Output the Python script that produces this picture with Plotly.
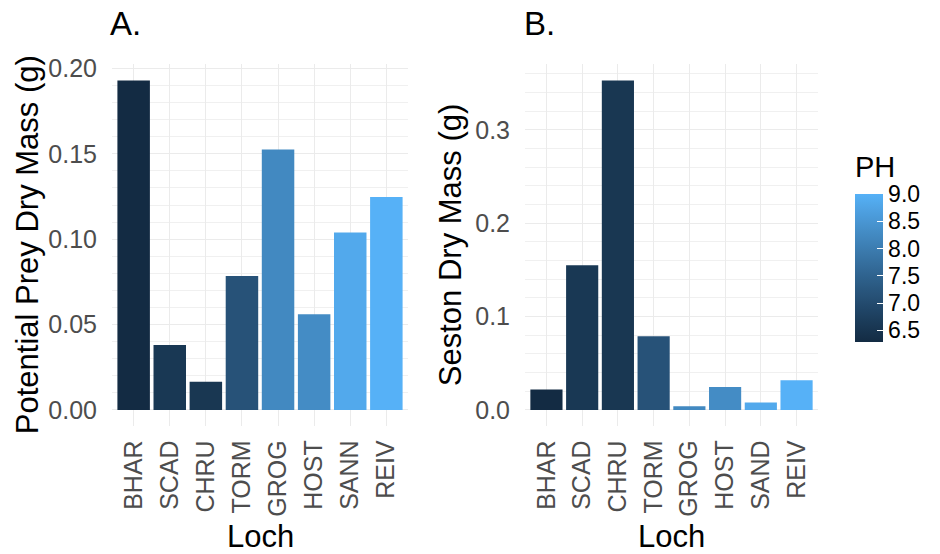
import plotly.graph_objects as go

# Loch data
lochs_a = ["BHAR", "SCAD", "CHRU", "TORM", "GROG", "HOST", "SANN", "REIV"]
prey_mass = [0.193, 0.038, 0.0165, 0.0785, 0.1525, 0.056, 0.104, 0.1247]
ph_a = [6.29, 6.58, 6.55, 7.15, 8.25, 8.3, 8.85, 9.0]

lochs_b = ["BHAR", "SCAD", "CHRU", "TORM", "GROG", "HOST", "SAND", "REIV"]
seston_mass = [0.0218, 0.155, 0.353, 0.079, 0.004, 0.0246, 0.008, 0.0317]
ph_b = [6.29, 6.58, 6.55, 7.15, 8.25, 8.3, 8.85, 9.0]

ph_ticks = [6.5, 7.0, 7.5, 8.0, 8.5, 9.0]

FONT = "Liberation Sans, Arial, sans-serif"
W, H = 940, 554


# ---- gradient interpolated in CIELAB (#132B43 -> #56B1F7) ----
def _hex_rgb(h):
    h = h.lstrip("#")
    return [int(h[i:i + 2], 16) / 255 for i in (0, 2, 4)]


def _lin(c):
    return c / 12.92 if c <= 0.04045 else ((c + 0.055) / 1.055) ** 2.4


def _delin(c):
    c = max(0.0, min(1.0, c))
    return 12.92 * c if c <= 0.0031308 else 1.055 * c ** (1 / 2.4) - 0.055


WHITE = (0.95047, 1.0, 1.08883)


def _to_lab(rgb):
    r, g, b = [_lin(c) for c in rgb]
    x = 0.4124 * r + 0.3576 * g + 0.1805 * b
    y = 0.2126 * r + 0.7152 * g + 0.0722 * b
    z = 0.0193 * r + 0.1192 * g + 0.9505 * b
    f = lambda t: t ** (1 / 3) if t > 0.008856 else 7.787 * t + 16 / 116
    fx, fy, fz = f(x / WHITE[0]), f(y / WHITE[1]), f(z / WHITE[2])
    return (116 * fy - 16, 500 * (fx - fy), 200 * (fy - fz))


def _from_lab(lab):
    L, a, b = lab
    fy = (L + 16) / 116
    fx = fy + a / 500
    fz = fy - b / 200
    finv = lambda t: t ** 3 if t ** 3 > 0.008856 else (t - 16 / 116) / 7.787
    x, y, z = finv(fx) * WHITE[0], finv(fy) * WHITE[1], finv(fz) * WHITE[2]
    r = 3.2406 * x - 1.5372 * y - 0.4986 * z
    g = -0.9689 * x + 1.8758 * y + 0.0415 * z
    bb = 0.0557 * x - 0.2040 * y + 1.0570 * z
    return "rgb(%d,%d,%d)" % tuple(round(_delin(c) * 255) for c in (r, g, bb))


lo, hi = _to_lab(_hex_rgb("#132B43")), _to_lab(_hex_rgb("#56B1F7"))
n = 20
colorscale = [
    [i / n, _from_lab([lo[k] + (hi[k] - lo[k]) * i / n for k in range(3)])]
    for i in range(n + 1)
]


def y_range(vals):
    top = max(vals)
    return [-0.05 * top, 1.05 * top]


fig = go.Figure()

fig.add_trace(go.Bar(
    x=lochs_a, y=prey_mass, xaxis="x", yaxis="y",
    marker=dict(color=ph_a, coloraxis="coloraxis", line=dict(width=0)),
    showlegend=False,
))
fig.add_trace(go.Bar(
    x=lochs_b, y=seston_mass, xaxis="x2", yaxis="y2",
    marker=dict(color=ph_b, coloraxis="coloraxis", line=dict(width=0)),
    showlegend=False,
))

# panel geometry in pixels -> paper fractions
ax_a = [112 / W, 408 / W]
ax_b = [525 / W, 818 / W]
ydom = [(H - 424) / H, (H - 55) / H]

grid = "#EBEBEB"
xcommon = dict(
    type="category", range=[-0.6, 7.6], showgrid=True, gridcolor=grid,
    gridwidth=1.1, zeroline=False, showline=False, ticks="",
    tickangle=-90, tickfont=dict(family=FONT, size=25, color="#4D4D4D"),
    ticklabelstandoff=8,
)
ycommon = dict(
    showgrid=True, gridcolor=grid, gridwidth=1.1, zeroline=False,
    showline=False, ticks="", domain=ydom,
    tickfont=dict(family=FONT, size=25, color="#4D4D4D"),
    ticklabelstandoff=14,
    minor=dict(showgrid=True, gridcolor="#F0F0F0", gridwidth=0.7),
)

cb_top, cb_bottom = 190, 338

fig.update_layout(
    width=W, height=H,
    margin=dict(l=0, r=0, t=0, b=0),
    paper_bgcolor="white", plot_bgcolor="white",
    bargap=0.1,
    font=dict(family=FONT, color="black"),
    xaxis=dict(domain=ax_a, anchor="y", **xcommon),
    yaxis=dict(anchor="x", range=y_range(prey_mass), dtick=0.05,
               tickformat=".2f", **ycommon),
    xaxis2=dict(domain=ax_b, anchor="y2", **xcommon),
    yaxis2=dict(anchor="x2", range=y_range(seston_mass), dtick=0.1,
                tickformat=".1f", **ycommon),
    coloraxis=dict(
        colorscale=colorscale,
        cmin=min(ph_a + ph_b), cmax=max(ph_a + ph_b),
        colorbar=dict(
            x=855 / W, xanchor="left", xpad=0,
            y=(H - cb_bottom) / H, yanchor="bottom", ypad=0,
            len=cb_bottom - cb_top, lenmode="pixels", thickness=28,
            outlinewidth=0, ticks="inside", ticklen=6,
            tickcolor="white", tickwidth=1.2,
            tickvals=ph_ticks, ticktext=["%.1f" % v for v in ph_ticks],
            tickfont=dict(family=FONT, size=23, color="black"),
        ),
    ),
)

ymid = (ydom[0] + ydom[1]) / 2
annotations = [
    dict(text="A.", x=108 / W, y=(H - 14) / H, xanchor="left", yanchor="middle",
         font=dict(size=33)),
    dict(text="B.", x=522 / W, y=(H - 14) / H, xanchor="left", yanchor="middle",
         font=dict(size=33)),
    dict(text="PH", x=853 / W, y=(H - 160) / H, xanchor="left", yanchor="middle",
         font=dict(size=29)),
    dict(text="Potential Prey Dry Mass (g)", x=27 / W, y=ymid, textangle=-90,
         xanchor="center", yanchor="middle", font=dict(size=31)),
    dict(text="Seston Dry Mass (g)", x=450 / W, y=ymid, textangle=-90,
         xanchor="center", yanchor="middle", font=dict(size=31)),
    dict(text="Loch", x=(ax_a[0] + ax_a[1]) / 2, y=(H - 536) / H,
         xanchor="center", yanchor="middle", font=dict(size=31)),
    dict(text="Loch", x=(ax_b[0] + ax_b[1]) / 2, y=(H - 536) / H,
         xanchor="center", yanchor="middle", font=dict(size=31)),
]
for a in annotations:
    a.update(xref="paper", yref="paper", showarrow=False)
    a["font"] = dict(family=FONT, color="black", **a["font"])
fig.update_layout(annotations=annotations)

fig.write_html("out.html")
